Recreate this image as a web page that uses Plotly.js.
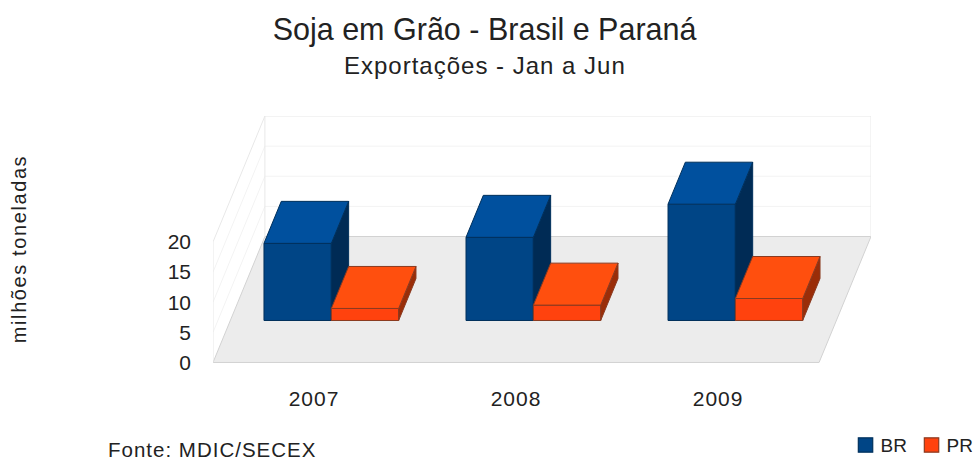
<!DOCTYPE html>
<html>
<head>
<meta charset="utf-8">
<script src="https://cdn.plot.ly/plotly-3.0.1.min.js"></script>
<style>
html,body{margin:0;padding:0;background:#fff}
.xtick text{letter-spacing:1px}
.ytitle{letter-spacing:1.6px}
.annotation-text{letter-spacing:1px}
.legendpoints path{transform:translate(25px,0) scale(1.2)}
</style>
</head>
<body>
<div id="chart" style="width:973px;height:461px"></div>
<script>
const years = ['2007', '2008', '2009'];
const positions = [0, 1, 2];
const valuesBR = [12.8, 13.8, 19.3];
const valuesPR = [2.0, 2.55, 3.65];
const yTicks = [0, 5, 10, 15, 20];
const wallTop = 20;

// oblique-projection parameters, in axis units per full depth of the floor
const depthX = 0.257, depthY = 20.9;
const barWidth = 1 / 3, depthNear = 1 / 3, depthFar = 2 / 3;
const xMin = -0.5, xMax = 2.5;

const px = (x, d) => x + d * depthX;
const py = (v, d) => v + d * depthY;
const path = pts => 'M' + pts.map(p => px(p[0], p[2]) + ',' + py(p[1], p[2])).join('L') + 'Z';

const shapes = [];
const poly = (pts, fill, line, w) => shapes.push({type: 'path', xref: 'x', yref: 'y', layer: 'below',
  path: path(pts), fillcolor: fill, line: {color: line, width: w}});
const seg = (a, b, line, w) => shapes.push({type: 'line', xref: 'x', yref: 'y', layer: 'below',
  x0: px(a[0], a[2]), y0: py(a[1], a[2]), x1: px(b[0], b[2]), y1: py(b[1], b[2]), line: {color: line, width: w}});

poly([[xMin, 0, 0], [xMax, 0, 0], [xMax, 0, 1], [xMin, 0, 1]], '#ececec', '#d2d2d2', 1);
yTicks.slice(1).forEach(v => {
  const c = v === wallTop ? '#e8e8e8' : '#f3f3f3';
  seg([xMin, v, 1], [xMax, v, 1], c, 1);
  seg([xMin, v, 0], [xMin, v, 1], c, 1);
});
seg([xMin, 0, 0], [xMin, wallTop, 0], '#e8e8e8', 1);
seg([xMin, 0, 1], [xMin, wallTop, 1], '#e8e8e8', 1);
seg([xMax, 0, 1], [xMax, wallTop, 1], '#e8e8e8', 1);

function series(name, vals, xStart, front, top, side, edge, xa, ya) {
  const out = [];
  const xl = positions.map(p => p + xStart);
  out.push({type: 'bar', name: name, x: xl.map(x => px(x, depthNear)), y: vals,
    base: vals.map(() => py(0, depthNear)), width: barWidth, offset: 0,
    marker: {color: front, line: {color: edge, width: 1}}, xaxis: xa, yaxis: ya, hoverinfo: 'skip'});
  const face = (color, ptsFn) => {
    const X = [], Y = [];
    xl.forEach((x, i) => {
      ptsFn(x, vals[i]).forEach(p => { X.push(px(p[0], p[2])); Y.push(py(p[1], p[2])); });
      X.push(null); Y.push(null);
    });
    out.push({type: 'scatter', mode: 'lines', x: X, y: Y, fill: 'toself', fillcolor: color,
      line: {color: edge, width: 1}, xaxis: xa, yaxis: ya, showlegend: false, hoverinfo: 'skip'});
  };
  face(side, (x, v) => [[x + barWidth, 0, depthNear], [x + barWidth, v, depthNear], [x + barWidth, v, depthFar], [x + barWidth, 0, depthFar], [x + barWidth, 0, depthNear]]);
  face(top, (x, v) => [[x, v, depthNear], [x + barWidth, v, depthNear], [x + barWidth, v, depthFar], [x, v, depthFar], [x, v, depthNear]]);
  return out;
}

const traces = [
  ...series('BR', valuesBR, -barWidth, '#004586', '#00509e', '#002b55', '#00305c', 'x', 'y'),
  ...series('PR', valuesPR, 0, '#ff420e', '#ff4f0e', '#9a2d08', '#8a3a20', 'x2', 'y2')
];

const xRange = [xMin, xMax + depthX];
const yRange = [-3.24, wallTop + depthY];
const font = {family: '"Liberation Sans", Arial, sans-serif', color: '#222222'};

const layout = {
  width: 973, height: 461,
  margin: {l: 213, r: 101.5, t: 116, b: 79, autoexpand: false},
  paper_bgcolor: '#ffffff', plot_bgcolor: 'rgba(0,0,0,0)',
  barmode: 'overlay', font: font,
  title: {text: 'Soja em Grão - Brasil e Paraná', font: {size: 30.5, family: font.family, color: '#222222'},
    x: 0.498, xanchor: 'center', y: 0.937, yanchor: 'middle'},
  xaxis: {range: xRange, tickmode: 'array', tickvals: positions, ticktext: years, showgrid: false, zeroline: false,
    showline: false, ticks: '', ticklabelstandoff: 2, tickfont: {size: 21, family: font.family, color: '#222222'}},
  yaxis: {range: yRange, tickmode: 'array', tickvals: yTicks, ticktext: yTicks.map(String), showgrid: false, zeroline: false,
    showline: false, ticks: '', ticklabelstandoff: 21, tickfont: {size: 21, family: font.family, color: '#222222'},
    automargin: true,
    title: {text: 'milhões toneladas', standoff: 135, font: {size: 20, family: font.family, color: '#222222'}}},
  xaxis2: {range: xRange, overlaying: 'x', visible: false},
  yaxis2: {range: yRange, overlaying: 'y', visible: false},
  shapes: shapes,
  showlegend: true,
  legend: {orientation: 'h', x: (841 - 213) / 658.5, xanchor: 'left', xref: 'paper', y: -0.166, yanchor: 'top', yref: 'paper',
    entrywidth: 21, entrywidthmode: 'pixels',
    bgcolor: 'rgba(0,0,0,0)', font: {size: 19, family: font.family, color: '#222222'}, traceorder: 'normal'},
  annotations: [
    {text: 'Exportações - Jan a Jun', xref: 'paper', yref: 'paper', x: (485.5 - 213) / 658.5, y: 1 + (116 - 66) / 266,
      xanchor: 'center', yanchor: 'middle', showarrow: false, font: {size: 24, family: font.family, color: '#222222'}},
    {text: 'Fonte: MDIC/SECEX', xref: 'paper', yref: 'paper', x: (105.5 - 213) / 658.5, y: -(449.5 - 382) / 266,
      xanchor: 'left', yanchor: 'middle', showarrow: false, font: {size: 20.5, family: font.family, color: '#222222'}}
  ]
};

Plotly.newPlot('chart', traces, layout, {displayModeBar: false, staticPlot: true});
</script>
</body>
</html>
